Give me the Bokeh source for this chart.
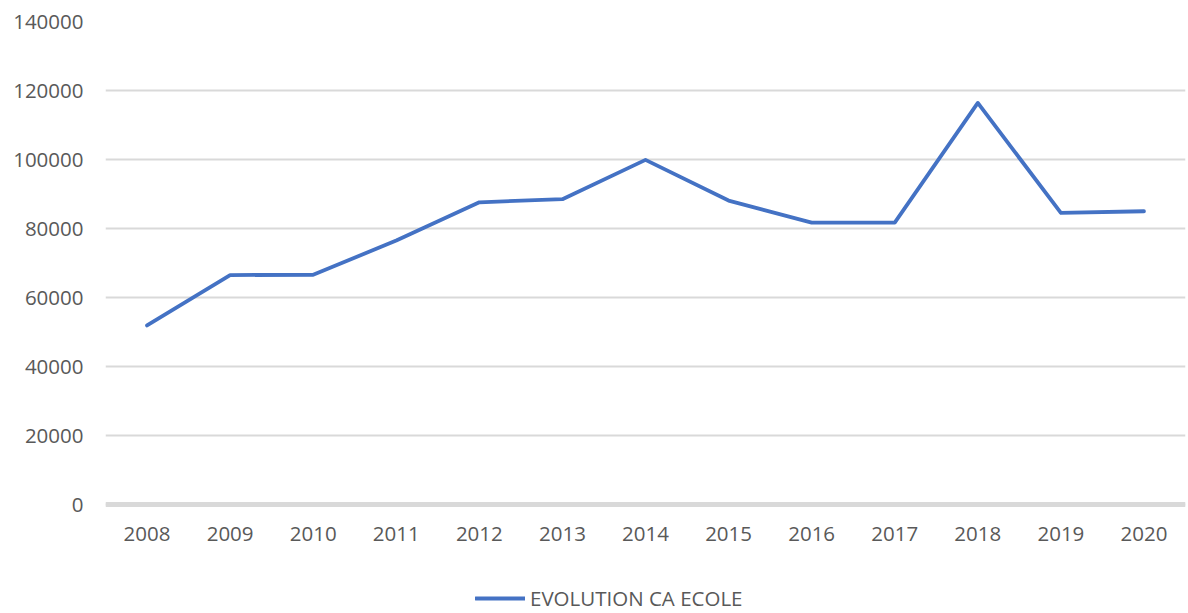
from bokeh.plotting import figure
from bokeh.models import Range1d, FixedTicker, Legend, LegendItem, NumeralTickFormatter
from bokeh.embed import file_html
from bokeh.resources import INLINE

years = ["2008", "2009", "2010", "2011", "2012", "2013", "2014",
         "2015", "2016", "2017", "2018", "2019", "2020"]
ca_ecole = [51900, 66500, 66600, 76500, 87600, 88500, 99900,
            88100, 81700, 81700, 116400, 84500, 85000]
y_ticks = [0, 20000, 40000, 60000, 80000, 100000, 120000, 140000]
series_name = "EVOLUTION CA ECOLE"

# category slots: each year sits in the middle of its own unit-wide slot
x_pos = [i + 0.5 for i in range(len(years))]

FONT = "Open Sans"
TXT = "#595959"
FS = "20.5px"

W, H = 1188, 613
TOP, AXIS_Y = 21, 504           # pixel rows of the 140000 line and the 0 line
y_max = 140000
y_min = -y_max * (H - AXIS_Y) / (AXIS_Y - TOP)   # room below 0 for labels + legend

p = figure(
    x_range=Range1d(0, len(years)),
    y_range=Range1d(y_min, y_max),
    width=W, height=H,
    min_border_left=105, min_border_right=3,
    min_border_top=TOP, min_border_bottom=0,
    output_backend="svg", toolbar_location=None,
    background_fill_color="white", border_fill_color="white",
)
p.outline_line_color = None

r = p.line(x=x_pos, y=ca_ecole, line_color="#4472C4", line_width=3.8,
           line_join="round", line_cap="round")

p.xgrid.grid_line_color = None
p.ygrid.grid_line_color = "#D9D9D9"
p.ygrid.grid_line_width = 2
p.yaxis.ticker = FixedTicker(ticks=y_ticks)
p.yaxis.formatter = NumeralTickFormatter(format="0")
p.xaxis.ticker = FixedTicker(ticks=x_pos)
p.xaxis.major_label_overrides = {x: y for x, y in zip(x_pos, years)}
p.xaxis.fixed_location = 0

for ax in (p.xaxis[0], p.yaxis[0]):
    ax.major_tick_line_color = None
    ax.minor_tick_line_color = None
    ax.major_tick_out = 0
    ax.major_tick_in = 0
    ax.major_label_text_font = FONT
    ax.major_label_text_font_size = FS
    ax.major_label_text_color = TXT

p.yaxis.axis_line_color = None
p.yaxis.major_label_standoff = 22
p.xaxis.axis_line_color = "#D9D9D9"
p.xaxis.axis_line_width = 5
p.xaxis.major_label_standoff = 22

legend = Legend(
    items=[LegendItem(label=series_name, renderers=[r])],
    location=(370, 1), orientation="horizontal",
    margin=0, padding=0, spacing=0,
    glyph_width=50, glyph_height=20, label_height=20, label_standoff=5,
    border_line_color=None, background_fill_alpha=0,
    label_text_font=FONT, label_text_font_size=FS, label_text_color=TXT,
)
p.add_layout(legend)

open("out.html", "w").write(file_html(p, INLINE))
